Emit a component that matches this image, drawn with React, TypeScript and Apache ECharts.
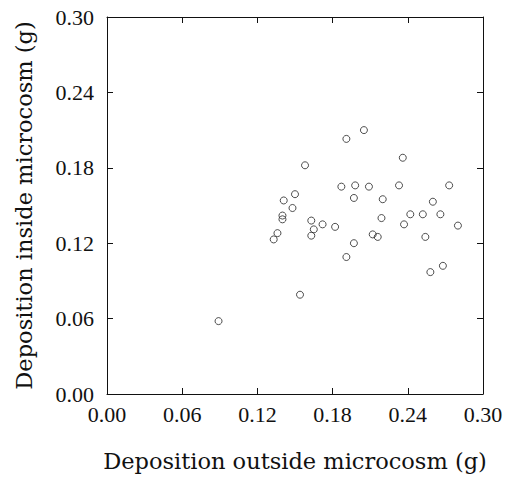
import React, { useEffect, useRef } from "react";
import * as echarts from "echarts";

const outsideDeposition = [
  0.089, 0.154, 0.133, 0.136, 0.140, 0.140, 0.141, 0.148, 0.150, 0.158,
  0.163, 0.163, 0.165, 0.172, 0.182, 0.187, 0.191, 0.191, 0.197, 0.197,
  0.198, 0.205, 0.209, 0.212, 0.216, 0.219, 0.220, 0.233, 0.236, 0.237,
  0.242, 0.252, 0.254, 0.258, 0.260, 0.266, 0.268, 0.273, 0.280,
];
const insideDeposition = [
  0.058, 0.079, 0.123, 0.128, 0.142, 0.139, 0.154, 0.148, 0.159, 0.182,
  0.138, 0.126, 0.131, 0.135, 0.133, 0.165, 0.203, 0.109, 0.156, 0.120,
  0.166, 0.210, 0.165, 0.127, 0.125, 0.140, 0.155, 0.166, 0.188, 0.135,
  0.143, 0.143, 0.125, 0.097, 0.153, 0.143, 0.102, 0.166, 0.134,
];
const tickValues = ["0.00", "0.06", "0.12", "0.18", "0.24", "0.30"];
const xTitle = "Deposition outside microcosm (g)";
const yTitle = "Deposition inside microcosm (g)";

const TITLE_FONT = "DejaVu Serif";
const TICK_FONT = "Liberation Serif";

export default function App() {
  const ref = useRef<HTMLDivElement>(null);
  useEffect(() => {
    if (!ref.current) return;
    const chart = echarts.init(ref.current, undefined, { renderer: "svg" });
    const points = outsideDeposition.map((x, i) => [x, insideDeposition[i]]);
    const lineStyle = { color: "#111", width: 1 };
    const labelFmt = (v: number) => tickValues[Math.round(v / 0.06)] ?? "";
    chart.setOption({
      animation: false,
      backgroundColor: "#fff",
      grid: { left: 107, right: 23, top: 17, bottom: 80, containLabel: false },
      xAxis: [
        {
          type: "value",
          min: 0,
          max: 0.3,
          interval: 0.06,
          name: xTitle,
          nameLocation: "middle",
          nameGap: 55,
          nameTextStyle: { fontFamily: TITLE_FONT, fontSize: 22.5, color: "#111" },
          axisLine: { show: true, onZero: false, lineStyle },
          axisTick: { show: true, inside: true, length: 6, lineStyle },
          axisLabel: {
            formatter: labelFmt,
            fontFamily: TICK_FONT,
            fontSize: 22,
            color: "#111",
            margin: 9,
          },
          splitLine: { show: false },
        },
        {
          type: "value",
          position: "top",
          min: 0,
          max: 0.3,
          interval: 0.06,
          axisLine: { show: true, onZero: false, lineStyle },
          axisTick: { show: true, inside: true, length: 6, lineStyle },
          axisLabel: { show: false },
          splitLine: { show: false },
        },
      ],
      yAxis: [
        {
          type: "value",
          min: 0,
          max: 0.3,
          interval: 0.06,
          name: yTitle,
          nameLocation: "middle",
          nameGap: 72,
          nameTextStyle: { fontFamily: TITLE_FONT, fontSize: 22.5, color: "#111" },
          axisLine: { show: true, onZero: false, lineStyle },
          axisTick: { show: true, inside: true, length: 6, lineStyle },
          axisLabel: {
            formatter: labelFmt,
            fontFamily: TICK_FONT,
            fontSize: 22,
            color: "#111",
            margin: 13,
          },
          splitLine: { show: false },
        },
        {
          type: "value",
          position: "right",
          min: 0,
          max: 0.3,
          interval: 0.06,
          axisLine: { show: true, onZero: false, lineStyle },
          axisTick: { show: true, inside: true, length: 6, lineStyle },
          axisLabel: { show: false },
          splitLine: { show: false },
        },
      ],
      series: [
        {
          type: "scatter",
          data: points,
          symbol: "circle",
          symbolSize: 7,
          itemStyle: { color: "rgba(255,255,255,0)", borderColor: "#222", borderWidth: 1 },
        },
      ],
    });
    return () => chart.dispose();
  }, []);
  return (
    <div
      ref={ref}
      style={{ position: "absolute", left: 0, top: 0, width: 506, height: 477 }}
    />
  );
}
